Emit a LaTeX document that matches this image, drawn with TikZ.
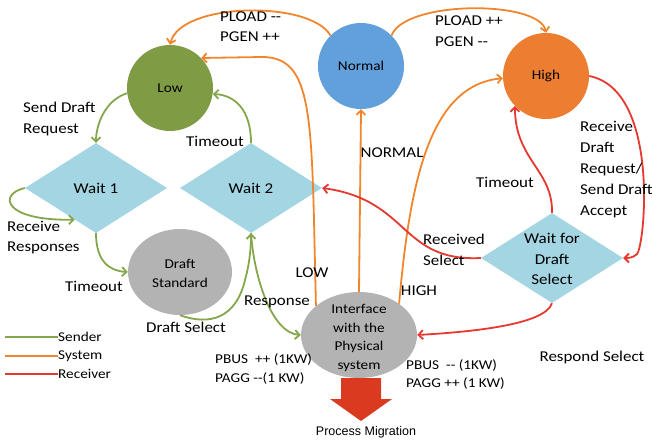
\documentclass[tikz,border=0pt]{standalone}
\usepackage{fontspec}
\setmainfont{Carlito}[FakeStretch=1.13]
\newfontfamily\pmfont{Liberation Sans}
\usetikzlibrary{shapes.geometric,arrows.meta}
\definecolor{lowgreen}{HTML}{7F9C45}
\definecolor{nblue}{HTML}{62A0DC}
\definecolor{horange}{HTML}{ED7D31}
\definecolor{dblue}{HTML}{A3D5E3}
\definecolor{egray}{HTML}{B3B3B3}
\definecolor{cgreen}{HTML}{86A64C}
\definecolor{corange}{HTML}{F0852D}
\definecolor{cred}{HTML}{E5382F}
\definecolor{bigred}{HTML}{D93A20}
\newcommand{\dd}{-{}-}
\tikzset{
  circ/.style={circle, minimum size=86pt, inner sep=0pt, font=\fontsize{13.5}{16}\selectfont},
  dia/.style={diamond, fill=dblue, minimum width=142pt, minimum height=90pt, inner sep=0pt, font=\fontsize{15}{18}\selectfont},
  ell/.style={ellipse, fill=egray, inner sep=0pt},
  inner/.style={inner sep=0pt, align=center},
  lbl/.style={inner sep=0pt, align=left, font=\fontsize{15}{21}\selectfont},
  small/.style={inner sep=0pt, align=left, font=\fontsize{13.5}{19}\selectfont},
  tip/.style={-{Straight Barb[length=4.5pt,width=9pt]}},
  snd/.style={draw=cgreen, line width=1.8pt, tip},
  sys/.style={draw=corange, line width=1.8pt, tip},
  rcv/.style={draw=cred, line width=1.8pt, tip},
}
\begin{document}
\begin{tikzpicture}[x=1pt,y=-1pt]
\useasboundingbox (0,0) rectangle (652,444);

% state nodes
\node[circ, fill=lowgreen] (low) at (170,88) {Low};
\node[circ, fill=nblue] (normal) at (361,66) {Normal};
\node[circ, fill=horange] (high) at (546,76) {High};
\node[dia] (w1) at (96,188) {Wait 1};
\node[dia] (w2) at (251,188) {Wait 2};
\node[dia] (wd) at (552,258) {};
\node[inner, font=\fontsize{15}{20.5}\selectfont] (wdtext) at (552,259) {Wait for\\Draft\\Select};
\node[ell, minimum width=104pt, minimum height=86pt] (ds) at (180,272) {};
\node[inner, font=\fontsize{13.5}{19}\selectfont] (dstext) at (180,273) {Draft\\Standard};
\node[ell, minimum width=116pt, minimum height=86pt] (phy) at (359,335) {};
\node[inner, font=\fontsize{13.5}{18.5}\selectfont] (phytext) at (359,338) {Interface\\with the\\Physical\\system};

% process migration arrow
\fill[bigred] (341,378) -- (381,378) -- (381,399) -- (392,399) -- (361,421) -- (330,399) -- (341,399) -- cycle;
\node[inner sep=0pt, font=\pmfont\fontsize{12.5}{14}\selectfont] (pm) at (366,432) {Process Migration};

% system (orange) connectors
\draw[sys] (normal.135) .. controls (310,0) and (180,2) .. (low.north);
\draw[sys] (normal.45) .. controls (405,0) and (540,0) .. (high.north);
\draw[sys] (phy.146) -- (314,220) .. controls (311,100) and (306,57) .. (262,57) -- (low.44);
\draw[sys] (phy.north) -- (normal.south);
\draw[sys] (phy.38) .. controls (410,180) and (430,85) .. (high.183);

% receiver (red) connectors
\draw[rcv] (high.0) .. controls (660,90) and (645,245) .. (637,254) .. controls (633,258) and (628,258) .. (wd.east);
\draw[rcv] (wd.north) .. controls (553,170) and (515,160) .. (high.224);
\draw[rcv] (wd.west) .. controls (400,262) and (410,200) .. (w2.east);
\draw[rcv] (wd.south) .. controls (545,325) and (470,332) .. (phy.east);

% sender (green) connectors
\draw[snd] (low.187) .. controls (105,100) and (96,125) .. (w1.north);
\draw[snd] (w2.north) .. controls (251,110) and (235,95) .. (low.352);
\draw[snd] (w1.west) .. controls (-2,194) and (3,221) .. (w1.236);
\draw[snd] (w1.south) .. controls (96,262) and (110,271) .. (ds.west);
\draw[snd] (ds.south) .. controls (210,326) and (236,318) .. (245,280) .. controls (250,262) and (251,246) .. (w2.south);
\draw[snd] (w2.south) .. controls (254,278) and (272,333) .. (phy.west);

% edge labels
\node[lbl, anchor=west, font=\fontsize{15}{20}\selectfont] (l1) at (220,27) {PLOAD \dd\\PGEN ++};
\node[lbl, anchor=west] (l2) at (435,31) {PLOAD ++\\PGEN \dd};
\node[lbl, anchor=west] (l3) at (23,119) {Send Draft\\Request};
\node[lbl] (l4) at (215,141) {Timeout};
\node[lbl, anchor=west, font=\fontsize{15}{20}\selectfont] (l5) at (7,238) {Receive\\Responses};
\node[lbl] (l6) at (94,286) {Timeout};
\node[lbl] (l7) at (186,327) {Draft Select};
\node[lbl] (l8) at (277,302) {Response};
\node[lbl] (l9) at (312,273) {LOW};
\node[lbl] (l10) at (392,153) {NORMAL};
\node[lbl] (l11) at (419,291) {HIGH};
\node[lbl] (l12) at (505,182) {Timeout};
\node[lbl, anchor=west] (l13) at (580,170) {Receive\\Draft\\Request/\\Send Draft\\Accept};
\node[lbl, anchor=west] (l14) at (423,250) {Received\\Select};
\node[lbl] (l15) at (592,357) {Respond Select};
\node[small, anchor=west] (l16) at (215,368.5) {PBUS \ ++ (1KW)\\PAGG \dd(1 KW)};
\node[small, anchor=west, font=\fontsize{13.5}{18}\selectfont] (l17) at (406,374) {PBUS \ \dd\ (1KW)\\PAGG ++ (1 KW)};

% legend
\coordinate (g1) at (5,337);
\coordinate (g2) at (5,356);
\coordinate (g3) at (5,374);
\node[small, anchor=west] (lg1) at (58,337) {Sender};
\node[small, anchor=west] (lg2) at (58,356) {System};
\node[small, anchor=west] (lg3) at (58,374) {Receiver};
\draw[draw=cgreen, line width=1.8pt] (g1) -- (lg1.west);
\draw[draw=corange, line width=1.8pt] (g2) -- (lg2.west);
\draw[draw=cred, line width=1.8pt] (g3) -- (lg3.west);
\end{tikzpicture}
\end{document}
